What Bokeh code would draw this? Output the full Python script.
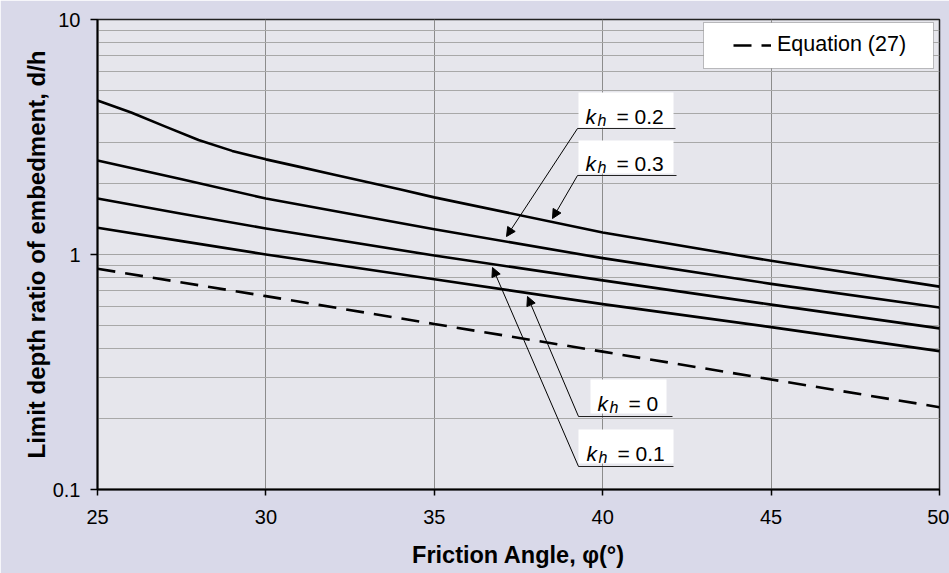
from bokeh.plotting import figure
from bokeh.models import (FixedTicker, Label, Arrow, NormalHead, BoxAnnotation,
                          Legend, LegendItem, CustomJSTickFormatter)
from bokeh.embed import file_html
from bokeh.resources import INLINE

# ---------------- data ----------------
phi_03 = [25, 26, 27, 28, 29, 30, 31, 32, 34, 35, 40, 45, 50]
kh_03 = [4.52, 4.02, 3.51, 3.07, 2.76, 2.54, 2.36, 2.19, 1.89, 1.75, 1.24, 0.94, 0.73]
phi = [25, 27.5, 30, 35, 40, 45, 50]
kh_02 = [2.51, 2.09, 1.73, 1.28, 0.965, 0.75, 0.595]
kh_01 = [1.73, 1.49, 1.29, 0.99, 0.776, 0.612, 0.485]
kh_00 = [1.30, 1.14, 1.00, 0.785, 0.615, 0.491, 0.388]
phi_eq = [25, 30, 35, 40, 45, 50]
eq27 = [0.87, 0.665, 0.506, 0.386, 0.294, 0.224]

x_ticks = [25, 30, 35, 40, 45, 50]
y_ticks = [0.1, 1, 10]
y_minor = [0.2, 0.3, 0.4, 0.5, 0.6, 0.7, 0.8, 0.9, 2, 3, 4, 5, 6, 7, 8, 9]

FONT = "Liberation Sans"

# ---------------- figure ----------------
p = figure(width=949, height=573, x_range=(25, 50), y_range=(0.1, 10),
           y_axis_type="log", output_backend="svg", toolbar_location=None,
           title=None, min_border_left=97, min_border_right=10,
           min_border_top=19, min_border_bottom=84)

p.border_fill_color = "#d9d9e9"
p.background_fill_color = "#e6e6ec"
p.outline_line_color = "#222222"
p.outline_line_width = 1.5

p.xaxis.ticker = FixedTicker(ticks=x_ticks)
p.yaxis.ticker = FixedTicker(ticks=y_ticks, minor_ticks=y_minor)
p.yaxis.formatter = CustomJSTickFormatter(code="return tick.toString();")

for ax in (p.xaxis, p.yaxis):
    ax.axis_line_color = "black"
    ax.axis_line_width = 2
    ax.major_tick_line_color = "black"
    ax.major_tick_line_width = 1.5
    ax.major_tick_in = 0
    ax.minor_tick_in = 0
    ax.minor_tick_out = 0
    ax.major_label_text_font = FONT
    ax.major_label_text_font_size = "20px"
    ax.major_label_text_color = "black"
    ax.axis_label_text_font = FONT
    ax.axis_label_text_font_style = "bold"
    ax.axis_label_text_color = "black"

p.xaxis.axis_label_text_font_size = "23.5px"
p.yaxis.axis_label_text_font_size = "24px"
p.xaxis.major_tick_out = 6
p.xaxis.major_label_standoff = 14
p.xaxis.axis_label_standoff = 15
p.yaxis.major_tick_out = 7
p.yaxis.major_label_standoff = 10
p.yaxis.axis_label_standoff = 0

p.xaxis.axis_label = "Friction Angle, \u03c6(\u00b0)"
p.yaxis.axis_label = "Limit depth ratio of embedment, d/h"

p.xgrid.grid_line_color = "#8c8c8c"
p.xgrid.grid_line_width = 1
p.ygrid.grid_line_color = "#a4a4a4"
p.ygrid.grid_line_width = 1
p.ygrid.minor_grid_line_color = "#a8a8a8"
p.ygrid.minor_grid_line_width = 1

# ---------------- curves ----------------
p.line(phi_03, kh_03, line_color="black", line_width=2.6, line_join="round")
for ys in (kh_02, kh_01, kh_00):
    p.line(phi, ys, line_color="black", line_width=2.6, line_join="round")
eq_r = p.line(phi_eq, eq27, line_color="black", line_width=2.6, line_dash="18 10")

# ---------------- annotation helpers (page pixel -> data) ----------------
def dx(xp):
    return 25 + (xp - 97) * 25 / 842

def dy(yp):
    return 10 ** (1 - 2 * (yp - 19) / 470)

# legend box
p.add_layout(BoxAnnotation(left=dx(703), right=dx(933), top=dy(22), bottom=dy(68),
                           fill_color="white", fill_alpha=1,
                           line_color="#333333", line_width=1))
legend = Legend(items=[LegendItem(label="Equation (27)", renderers=[eq_r])],
                location=(636, 432), padding=0, margin=0, spacing=0,
                border_line_alpha=0, background_fill_alpha=0,
                glyph_width=38, glyph_height=20, label_standoff=6,
                label_height=20, label_text_font=FONT,
                label_text_font_size="21.5px", label_text_color="black")
p.add_layout(legend)

# k_h labels: (value, box l, box r, box t, box b, text x, baseline, underline l, r, y, tip x, tip y)
kh_labels = [
    ("0.3", 578, 673, 140, 173, 585, 163, 577, 676, 175, 552, 218),
    ("0.2", 578, 673, 92, 127, 585, 116, 577, 675, 128, 506, 236),
    ("0", 590, 666, 379, 413, 597, 403, 578, 672, 416, 527, 296),
    ("0.1", 578, 673, 429, 463, 586, 453, 578, 673, 466, 492, 267),
]

for (val, bl, br, bt, bb, tx, base, ul, ur, uy, ax_, ay_) in kh_labels:
    p.add_layout(BoxAnnotation(left=dx(bl), right=dx(br), top=dy(bt), bottom=dy(bb),
                               fill_color="white", fill_alpha=1, line_color=None))
    p.add_layout(Label(x=dx(tx), y=dy(base), text="k", text_font=FONT,
                       text_font_style="italic", text_font_size="21px",
                       text_baseline="alphabetic", text_color="black"))
    p.add_layout(Label(x=dx(tx + 12), y=dy(base + 4), text="h", text_font=FONT,
                       text_font_style="italic", text_font_size="16px",
                       text_baseline="alphabetic", text_color="black"))
    p.add_layout(Label(x=dx(tx + 31), y=dy(base), text="= " + val, text_font=FONT,
                       text_font_size="21px", text_baseline="alphabetic",
                       text_color="black"))
    p.add_layout(Arrow(x_start=dx(ul), y_start=dy(uy), x_end=dx(ur), y_end=dy(uy),
                       start=None, end=None, line_color="#222222", line_width=1))
    p.add_layout(Arrow(x_start=dx(ul), y_start=dy(uy), x_end=dx(ax_), y_end=dy(ay_),
                       start=None,
                       end=NormalHead(size=9, fill_color="black", line_color="black"),
                       line_color="black", line_width=1))

open("out.html", "w").write(file_html(p, INLINE))
